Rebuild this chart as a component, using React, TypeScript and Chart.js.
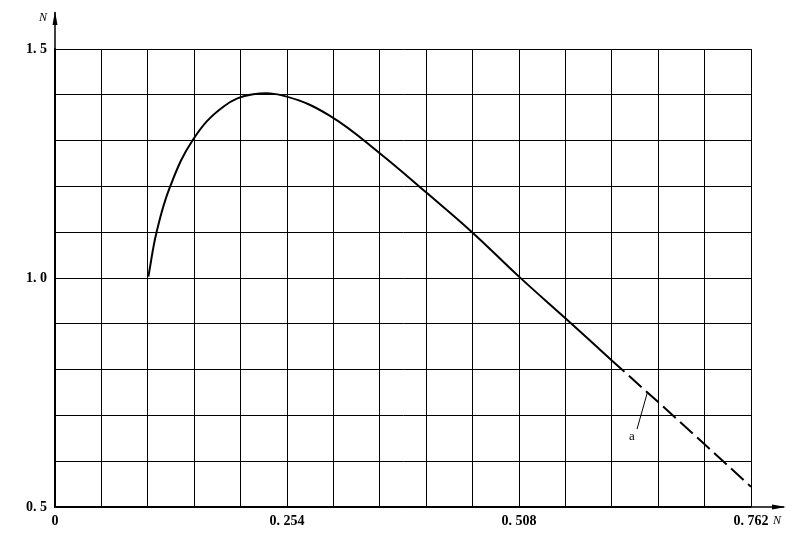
import React, { useEffect, useRef } from "react";
import { Chart, registerables } from "chart.js";

Chart.register(...registerables);

// Curve (x, y)
const solidX = [0.1022, 0.1113, 0.1259, 0.1514, 0.1843, 0.217, 0.2537, 0.3011, 0.3558, 0.4069, 0.4572, 0.508, 0.5588, 0.6096];
const solidY = [1.003, 1.101, 1.199, 1.303, 1.374, 1.401, 1.396, 1.354, 1.272, 1.186, 1.099, 1.003, 0.912, 0.82];
const dashedX = [0.6096, 0.6604, 0.7112, 0.762];
const dashedY = [0.82, 0.729, 0.637, 0.544];

const xMin = 0;
const xMax = 0.762;
const xGridStep = 0.0508;
const xLabelValues = [0, 0.254, 0.508, 0.762];
const xLabelTexts = ["0", "0. 254", "0. 508", "0. 762"];

const yMin = 0.5;
const yMax = 1.5;
const yGridStep = 0.1;
const yLabelValues = [0.5, 1.0, 1.5];
const yLabelTexts = ["0. 5", "1. 0", "1. 5"];

const annotationText = "a";
const annotationTextPos = { x: 0.6317, y: 0.653 };
const annotationLeader = { x1: 0.6372, y1: 0.67, x2: 0.6487, y2: 0.751 };
const axisNameX = "N";
const axisNameY = "N";

const FONT = "'Liberation Serif', 'DejaVu Serif', serif";

function findLabel(v: number, values: number[], texts: string[]) {
  for (let i = 0; i < values.length; i++) {
    if (Math.abs(values[i] - v) < 1e-6) return texts[i];
  }
  return "";
}

const extrasPlugin = {
  id: "extras",
  afterDraw(chart: any) {
    const ctx = chart.ctx;
    const xs = chart.scales.x;
    const ys = chart.scales.y;
    const left = xs.getPixelForValue(xMin);
    const right = xs.getPixelForValue(xMax);
    const top = ys.getPixelForValue(yMax);
    const bottom = ys.getPixelForValue(yMin);
    ctx.save();
    ctx.strokeStyle = "#000";
    ctx.fillStyle = "#000";
    ctx.lineWidth = 1.5;
    // y axis extension + arrow
    ctx.beginPath();
    ctx.moveTo(left, top);
    ctx.lineTo(left, 12);
    ctx.stroke();
    ctx.beginPath();
    ctx.moveTo(left, 11);
    ctx.lineTo(left - 2.5, 25);
    ctx.lineTo(left + 2.5, 25);
    ctx.closePath();
    ctx.fill();
    // x axis extension + arrow
    ctx.beginPath();
    ctx.moveTo(right, bottom);
    ctx.lineTo(784, bottom);
    ctx.stroke();
    ctx.beginPath();
    ctx.moveTo(786, bottom);
    ctx.lineTo(772, bottom - 2.5);
    ctx.lineTo(772, bottom + 2.5);
    ctx.closePath();
    ctx.fill();
    // axis names
    ctx.font = "italic 12px " + FONT;
    ctx.textAlign = "center";
    ctx.textBaseline = "middle";
    ctx.fillText(axisNameY, left - 12, 18);
    ctx.fillText(axisNameX, right + 26, bottom + 14);
    // annotation
    ctx.lineWidth = 1;
    ctx.beginPath();
    ctx.moveTo(xs.getPixelForValue(annotationLeader.x1), ys.getPixelForValue(annotationLeader.y1));
    ctx.lineTo(xs.getPixelForValue(annotationLeader.x2), ys.getPixelForValue(annotationLeader.y2));
    ctx.stroke();
    ctx.font = "13px " + FONT;
    ctx.fillText(annotationText, xs.getPixelForValue(annotationTextPos.x), ys.getPixelForValue(annotationTextPos.y));
    ctx.restore();
  },
};

export default function App() {
  const ref = useRef<HTMLCanvasElement | null>(null);
  useEffect(() => {
    if (!ref.current) return;
    const chart = new Chart(ref.current, {
      type: "line",
      data: {
        datasets: [
          {
            data: solidX.map((x, i) => ({ x, y: solidY[i] })),
            borderColor: "#000",
            borderWidth: 2,
            pointRadius: 0,
            tension: 0.4,
            fill: false,
          },
          {
            data: dashedX.map((x, i) => ({ x, y: dashedY[i] })),
            borderColor: "#000",
            borderWidth: 2,
            borderDash: [17, 6],
            pointRadius: 0,
            fill: false,
          },
        ],
      },
      options: {
        animation: false,
        responsive: false,
        events: [],
        layout: { padding: { left: 0, top: 49, right: 46, bottom: 0 } },
        plugins: { legend: { display: false }, tooltip: { enabled: false } },
        scales: {
          x: {
            type: "linear",
            min: xMin,
            max: xMax,
            afterBuildTicks(scale: any) {
              const t = [];
              const n = Math.round((xMax - xMin) / xGridStep);
              for (let i = 0; i <= n; i++) t.push({ value: xMin + i * xGridStep });
              scale.ticks = t;
            },
            afterFit(scale: any) {
              scale.height = 32;
            },
            ticks: {
              autoSkip: false,
              maxRotation: 0,
              padding: 6,
              color: "#000",
              font: { family: FONT, size: 14, weight: "bold" },
              callback: (v: any) => findLabel(Number(v), xLabelValues, xLabelTexts),
            },
            grid: { color: "#000", lineWidth: 1, drawTicks: false },
            border: { color: "#000", width: 1.5 },
          },
          y: {
            type: "linear",
            min: yMin,
            max: yMax,
            afterBuildTicks(scale: any) {
              const t = [];
              const n = Math.round((yMax - yMin) / yGridStep);
              for (let i = 0; i <= n; i++) t.push({ value: yMin + i * yGridStep });
              scale.ticks = t;
            },
            afterFit(scale: any) {
              scale.width = 55;
            },
            ticks: {
              autoSkip: false,
              padding: 8,
              color: "#000",
              font: { family: FONT, size: 14, weight: "bold" },
              callback: (v: any) => findLabel(Number(v), yLabelValues, yLabelTexts),
            },
            grid: { color: "#000", lineWidth: 1, drawTicks: false },
            border: { color: "#000", width: 1.5 },
          },
        },
      },
      plugins: [extrasPlugin],
    } as any);
    return () => chart.destroy();
  }, []);
  return (
    <div style={{ position: "absolute", left: 0, top: 0, width: 797, height: 539, background: "#fff" }}>
      <canvas ref={ref} width={797} height={539} style={{ display: "block" }} />
    </div>
  );
}
